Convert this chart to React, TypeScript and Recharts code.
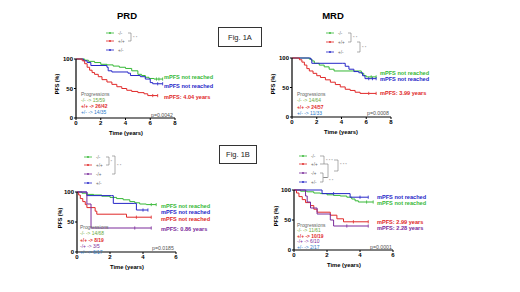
import React from 'react';
import { LineChart, Line, XAxis, YAxis } from 'recharts';

type P = { t: number; s: number; c?: number };

const FONT = '"Liberation Sans", Arial, sans-serif';
const GREEN = '#36b836';
const BLUE = '#2626c8';
const RED = '#e02828';
const PURPLE = '#7a2a9a';

// Fig 1A – PRD
const PRD_A_NEG: P[] = [
  { t: 0, s: 100 }, { t: 0.7, s: 98 }, { t: 1.0, s: 96 }, { t: 1.5, s: 94 }, { t: 2.0, s: 91 },
  { t: 2.5, s: 90 }, { t: 3.0, s: 88 }, { t: 3.5, s: 86 }, { t: 4.0, s: 84 }, { t: 4.5, s: 80 },
  { t: 5.0, s: 74 }, { t: 5.3, s: 72 }, { t: 5.6, s: 69 }, { t: 5.9, s: 67 }, { t: 6.3, s: 66 },
  { t: 6.5, s: 66, c: 1 }, { t: 6.7, s: 66, c: 1 }, { t: 7.0, s: 66, c: 1 },
];
const PRD_A_POSNEG: P[] = [
  { t: 0, s: 100 }, { t: 0.6, s: 97 }, { t: 0.9, s: 94 }, { t: 1.2, s: 89 }, { t: 2.5, s: 86 },
  { t: 2.6, s: 80 }, { t: 2.9, s: 78 }, { t: 4.2, s: 76 }, { t: 4.4, s: 72 }, { t: 5.2, s: 70 },
  { t: 5.6, s: 66 }, { t: 6.0, s: 60 }, { t: 6.2, s: 58 }, { t: 6.6, s: 58, c: 1 }, { t: 7.0, s: 58, c: 1 },
];
const PRD_A_POS: P[] = [
  { t: 0, s: 100 }, { t: 0.5, s: 97 }, { t: 0.7, s: 92 }, { t: 0.9, s: 86 }, { t: 1.1, s: 81 },
  { t: 1.3, s: 77 }, { t: 1.5, s: 74 }, { t: 1.8, s: 70 }, { t: 2.1, s: 65 }, { t: 2.5, s: 61 },
  { t: 2.9, s: 57 }, { t: 3.3, s: 53 }, { t: 3.7, s: 50 }, { t: 4.1, s: 47 }, { t: 4.5, s: 45 },
  { t: 5.0, s: 43 }, { t: 5.5, s: 41 }, { t: 5.8, s: 38 }, { t: 6.2, s: 38, c: 1 }, { t: 6.6, s: 38, c: 1 },
];

// Fig 1A – MRD
const MRD_A_NEG: P[] = [
  { t: 0, s: 100 }, { t: 1.4, s: 98 }, { t: 1.6, s: 95 }, { t: 1.8, s: 91 }, { t: 2.2, s: 88 },
  { t: 2.6, s: 85 }, { t: 3.0, s: 81 }, { t: 3.4, s: 78 }, { t: 5.4, s: 78 }, { t: 5.6, s: 74 },
  { t: 5.8, s: 70 }, { t: 6.0, s: 68 }, { t: 6.4, s: 68, c: 1 }, { t: 6.8, s: 68, c: 1 },
];
const MRD_A_POSNEG: P[] = [
  { t: 0, s: 100 }, { t: 1.5, s: 98 }, { t: 1.6, s: 91 }, { t: 4.1, s: 91 }, { t: 4.3, s: 86 },
  { t: 4.6, s: 81 }, { t: 5.0, s: 77 }, { t: 5.4, s: 75 }, { t: 5.7, s: 70 }, { t: 5.9, s: 65 },
  { t: 6.2, s: 65, c: 1 }, { t: 6.5, s: 65, c: 1 }, { t: 6.8, s: 65, c: 1 },
];
const MRD_A_POS: P[] = [
  { t: 0, s: 100 }, { t: 0.6, s: 97 }, { t: 0.8, s: 93 }, { t: 1.0, s: 88 }, { t: 1.2, s: 82 },
  { t: 1.4, s: 78 }, { t: 1.7, s: 74 }, { t: 2.0, s: 70 }, { t: 2.3, s: 67 }, { t: 2.7, s: 63 },
  { t: 3.1, s: 59 }, { t: 3.5, s: 55 }, { t: 3.9, s: 51 }, { t: 4.3, s: 47 }, { t: 4.7, s: 45 },
  { t: 5.1, s: 42 }, { t: 5.5, s: 40 }, { t: 6.2, s: 40, c: 1 }, { t: 6.8, s: 40, c: 1 },
];

// Fig 1B – PRD
const PRD_B_NEGNEG: P[] = [
  { t: 0, s: 100 }, { t: 0.3, s: 98 }, { t: 0.6, s: 96 }, { t: 1.0, s: 95 }, { t: 1.5, s: 93 },
  { t: 2.0, s: 91 }, { t: 2.4, s: 89 }, { t: 2.8, s: 87 }, { t: 3.2, s: 84 }, { t: 3.5, s: 82 },
  { t: 3.8, s: 80 }, { t: 4.2, s: 79 }, { t: 4.5, s: 79, c: 1 }, { t: 4.8, s: 79, c: 1 },
];
const PRD_B_POSPOS: P[] = [
  { t: 0, s: 100 }, { t: 0.1, s: 95 }, { t: 0.2, s: 89 }, { t: 0.35, s: 84 }, { t: 0.5, s: 79 },
  { t: 0.6, s: 74 }, { t: 1.1, s: 68 }, { t: 1.2, s: 63 }, { t: 2.9, s: 63 }, { t: 3.0, s: 58 },
  { t: 3.6, s: 58, c: 1 }, { t: 4.5, s: 58, c: 1 },
];
const PRD_B_NEGPOS: P[] = [
  { t: 0, s: 100 }, { t: 0.6, s: 80 }, { t: 0.85, s: 40 }, { t: 3.5, s: 40, c: 1 }, { t: 4.5, s: 40, c: 1 },
];
const PRD_B_POSNEG: P[] = [
  { t: 0, s: 100 }, { t: 0.6, s: 94 }, { t: 2.1, s: 94 }, { t: 2.2, s: 81 }, { t: 3.5, s: 81 },
  { t: 3.6, s: 70 }, { t: 4.0, s: 70, c: 1 }, { t: 4.3, s: 70, c: 1 },
];

// Fig 1B – MRD
const MRD_B_NEGNEG: P[] = [
  { t: 0, s: 100 }, { t: 0.4, s: 98 }, { t: 0.8, s: 97 }, { t: 1.2, s: 95 }, { t: 1.6, s: 94 },
  { t: 2.0, s: 92 }, { t: 2.4, s: 91 }, { t: 2.8, s: 90 }, { t: 3.2, s: 88 }, { t: 3.5, s: 85 },
  { t: 3.7, s: 82 }, { t: 3.9, s: 80 }, { t: 4.4, s: 80, c: 1 }, { t: 4.8, s: 80, c: 1 },
];
const MRD_B_POSPOS: P[] = [
  { t: 0, s: 100 }, { t: 0.15, s: 95 }, { t: 0.3, s: 89 }, { t: 0.5, s: 84 }, { t: 0.7, s: 79 },
  { t: 1.0, s: 74 }, { t: 1.2, s: 68 }, { t: 1.4, s: 63 }, { t: 2.2, s: 58 }, { t: 2.6, s: 52 },
  { t: 3.0, s: 47 }, { t: 3.6, s: 47, c: 1 }, { t: 4.5, s: 47, c: 1 },
];
const MRD_B_NEGPOS: P[] = [
  { t: 0, s: 100 }, { t: 0.7, s: 90 }, { t: 0.8, s: 80 }, { t: 1.0, s: 70 }, { t: 1.4, s: 60 },
  { t: 2.2, s: 50 }, { t: 2.4, s: 40 }, { t: 3.2, s: 40, c: 1 }, { t: 4.5, s: 40, c: 1 },
];
const MRD_B_POSNEG: P[] = [
  { t: 0, s: 100 }, { t: 1.7, s: 94 }, { t: 2.4, s: 94, c: 1 }, { t: 3.4, s: 88 }, { t: 4.0, s: 88, c: 1 },
  { t: 4.5, s: 88, c: 1 },
];

const TICKS_8 = [0, 2, 4, 6, 8];
const TICKS_6 = [0, 2, 4, 6];
const Y_TICKS = [0, 50, 100];

const CensorDot = (props: any) => {
  const { cx, cy, payload, stroke, index } = props;
  if (!payload || !payload.c || cx == null) return <g key={'d' + index} />;
  return (
    <line key={'d' + index} x1={cx} x2={cx} y1={cy - 1.6} y2={cy + 1.6} stroke={stroke} strokeWidth={0.8} />
  );
};

type S = { data: P[]; color: string; name: string };

function Panel(props: { left: number; top: number; w: number; h: number; xMax: number; xTicks: number[]; series: S[] }) {
  const { left, top, w, h, xMax, xTicks, series } = props;
  const yw = 24, mt = 4, mr = 4, xh = 16;
  const tick = { fontSize: 6, fontWeight: 700, fill: '#000', fontFamily: FONT };
  return (
    <div style={{ position: 'absolute', left: left - yw, top: top - mt }}>
      <LineChart width={yw + w + mr} height={mt + h + xh} margin={{ top: mt, right: mr, left: 0, bottom: 0 }}>
        <XAxis
          type="number"
          dataKey="t"
          domain={[0, xMax]}
          ticks={xTicks}
          interval={0}
          height={xh}
          tickSize={2}
          tickMargin={1}
          axisLine={{ stroke: '#000', strokeWidth: 1.2 }}
          tickLine={{ stroke: '#000', strokeWidth: 1 }}
          tick={tick}
        />
        <YAxis
          type="number"
          domain={[0, 100]}
          ticks={Y_TICKS}
          interval={0}
          width={yw}
          tickSize={2}
          tickMargin={1}
          axisLine={{ stroke: '#000', strokeWidth: 1.2 }}
          tickLine={{ stroke: '#000', strokeWidth: 1 }}
          tick={tick}
        />
        {series.map((s) => (
          <Line
            key={s.name}
            data={s.data}
            dataKey="s"
            name={s.name}
            type="stepAfter"
            stroke={s.color}
            strokeWidth={1}
            dot={CensorDot}
            activeDot={false}
            isAnimationActive={false}
          />
        ))}
      </LineChart>
    </div>
  );
}

const T = (p: { x: number; y: number; c?: string; s?: number; b?: boolean; a?: 'start' | 'middle' | 'end'; children: React.ReactNode }) => (
  <text
    x={p.x}
    y={p.y}
    fill={p.c || '#000'}
    fontSize={p.s || 5}
    fontWeight={p.b ? 700 : 400}
    textAnchor={p.a || 'start'}
    dominantBaseline="central"
    fontFamily={FONT}
  >
    {p.children}
  </text>
);

const LegRow = (p: { x: number; y: number; color: string; label: string }) => (
  <g>
    <line x1={p.x} x2={p.x + 8} y1={p.y} y2={p.y} stroke={p.color} strokeWidth={0.8} />
    <circle cx={p.x + 4} cy={p.y} r={0.9} fill={p.color} />
    <T x={p.x + 12} y={p.y} c="#666" s={4.5}>{p.label}</T>
  </g>
);

const Bracket = (p: { x: number; y1: number; y2: number; w?: number }) => {
  const w = p.w || 3;
  return <path d={`M${p.x},${p.y1} H${p.x + w} V${p.y2} H${p.x}`} fill="none" stroke="#777" strokeWidth={0.6} />;
};

export default function App() {
  return (
    <div style={{ position: 'absolute', left: 0, top: 0, width: 520, height: 292, background: '#fff', overflow: 'hidden' }}>
      <Panel
        left={76} top={59} w={99} h={59} xMax={8} xTicks={TICKS_8}
        series={[
          { data: PRD_A_NEG, color: GREEN, name: '-/-' },
          { data: PRD_A_POSNEG, color: BLUE, name: '+/-' },
          { data: PRD_A_POS, color: RED, name: '+/+' },
        ]}
      />
      <Panel
        left={292} top={58} w={99} h={59} xMax={8} xTicks={TICKS_8}
        series={[
          { data: MRD_A_NEG, color: GREEN, name: '-/-' },
          { data: MRD_A_POSNEG, color: BLUE, name: '+/-' },
          { data: MRD_A_POS, color: RED, name: '+/+' },
        ]}
      />
      <Panel
        left={77} top={192} w={99} h={60} xMax={6} xTicks={TICKS_6}
        series={[
          { data: PRD_B_NEGNEG, color: GREEN, name: '-/-' },
          { data: PRD_B_POSNEG, color: BLUE, name: '+/-' },
          { data: PRD_B_POSPOS, color: RED, name: '+/+' },
          { data: PRD_B_NEGPOS, color: PURPLE, name: '-/+' },
        ]}
      />
      <Panel
        left={294} top={190} w={99} h={60} xMax={6} xTicks={TICKS_6}
        series={[
          { data: MRD_B_NEGNEG, color: GREEN, name: '-/-' },
          { data: MRD_B_POSNEG, color: BLUE, name: '+/-' },
          { data: MRD_B_POSPOS, color: RED, name: '+/+' },
          { data: MRD_B_NEGPOS, color: PURPLE, name: '-/+' },
        ]}
      />
      <svg width={520} height={292} style={{ position: 'absolute', left: 0, top: 0, pointerEvents: 'none' }}>
        {/* titles */}
        <T x={127} y={15} s={9.5} b a="middle">PRD</T>
        <T x={333} y={15} s={9.5} b a="middle">MRD</T>
        <rect x={218.5} y={27.5} width={43} height={19} fill="none" stroke="#333" strokeWidth={1} />
        <T x={240} y={37} s={7.5} a="middle" c="#222">Fig. 1A</T>
        <rect x={219.5} y={145.5} width={37} height={18} fill="none" stroke="#333" strokeWidth={1} />
        <T x={238} y={154.5} s={7.5} a="middle" c="#222">Fig. 1B</T>

        {/* axis titles */}
        <T x={126} y={133} s={5.8} b a="middle">Time (years)</T>
        <T x={341} y={132} s={5.8} b a="middle">Time (years)</T>
        <T x={127} y={267} s={5.8} b a="middle">Time (years)</T>
        <T x={344} y={265} s={5.8} b a="middle">Time (years)</T>
        <g transform="translate(57,84) rotate(-90)"><T x={0} y={0} s={5.4} b a="middle">PFS (%)</T></g>
        <g transform="translate(273,84) rotate(-90)"><T x={0} y={0} s={5.4} b a="middle">PFS (%)</T></g>
        <g transform="translate(60,218) rotate(-90)"><T x={0} y={0} s={5.4} b a="middle">PFS (%)</T></g>
        <g transform="translate(276,216) rotate(-90)"><T x={0} y={0} s={5.4} b a="middle">PFS (%)</T></g>

        {/* Panel A-left legend */}
        <LegRow x={106} y={33} color={GREEN} label="-/-" />
        <LegRow x={106} y={41} color={RED} label="+/+" />
        <LegRow x={106} y={50} color={BLUE} label="+/-" />
        <Bracket x={128} y1={33} y2={41} />
        <T x={133} y={37} s={4} c="#777">* *</T>
        <T x={81} y={94} s={4.9} c="#666">Progressions</T>
        <T x={81} y={100} s={4.9} c="#6aa83a">-/- -&gt; 15/59</T>
        <T x={81} y={106} s={4.9} c={RED} b>+/+ -&gt; 26/42</T>
        <T x={81} y={112} s={4.9} c="#2a78c8">+/- -&gt; 14/35</T>
        <T x={151} y={115} s={5.2} c="#555">p=0.0042</T>
        <T x={164} y={77} s={5.6} b c={GREEN}>mPFS not reached</T>
        <T x={164} y={86} s={5.6} b c={BLUE}>mPFS not reached</T>
        <T x={164} y={97} s={5.6} b c={RED}>mPFS: 4.04 years</T>

        {/* Panel A-right legend */}
        <LegRow x={326} y={33} color={GREEN} label="-/-" />
        <LegRow x={326} y={42} color={RED} label="+/+" />
        <LegRow x={326} y={52} color={BLUE} label="+/-" />
        <Bracket x={348} y1={33} y2={42} />
        <T x={353} y={37.5} s={4} c="#777">* *</T>
        <Bracket x={357} y1={42} y2={52} />
        <T x={362} y={47} s={4} c="#777">* *</T>
        <T x={297} y={94} s={4.9} c="#666">Progressions</T>
        <T x={297} y={100} s={4.9} c="#6aa83a">-/- -&gt; 14/64</T>
        <T x={297} y={107} s={4.9} c={RED} b>+/+ -&gt; 24/57</T>
        <T x={297} y={113} s={4.9} c="#2a78c8">+/- -&gt; 11/33</T>
        <T x={367} y={113} s={5.2} c="#555">p=0.0008</T>
        <T x={380} y={73} s={5.6} b c={GREEN}>mPFS not reached</T>
        <T x={380} y={79} s={5.6} b c={BLUE}>mPFS not reached</T>
        <T x={380} y={93} s={5.6} b c={RED}>mPFS: 3.99 years</T>

        {/* Panel B-left legend */}
        <LegRow x={84} y={157} color={GREEN} label="-/-" />
        <LegRow x={84} y={165} color={RED} label="+/+" />
        <LegRow x={84} y={174} color={PURPLE} label="-/+" />
        <LegRow x={84} y={183} color={BLUE} label="+/-" />
        <Bracket x={106} y1={157} y2={165} />
        <T x={110.5} y={161} s={4} c="#777">*</T>
        <Bracket x={112} y1={156} y2={174} />
        <T x={117} y={165} s={4} c="#777">* *</T>
        <T x={80} y={227} s={4.9} c="#666">Progressions</T>
        <T x={80} y={233} s={4.9} c="#6aa83a">-/- -&gt; 14/68</T>
        <T x={80} y={240} s={4.9} c={RED} b>+/+ -&gt; 8/19</T>
        <T x={80} y={246} s={4.9} c={PURPLE}>-/+ -&gt; 3/5</T>
        <T x={80} y={252} s={4.9} c="#2a78c8">+/- -&gt; 6/17</T>
        <T x={152} y={248} s={5.2} c="#555">p=0.0185</T>
        <T x={161} y={206} s={5.6} b c={GREEN}>mPFS not reached</T>
        <T x={161} y={212} s={5.6} b c={BLUE}>mPFS not reached</T>
        <T x={161} y={219} s={5.6} b c={RED}>mPFS not reached</T>
        <T x={161} y={229} s={5.6} b c={PURPLE}>mPFS: 0.86 years</T>

        {/* Panel B-right legend */}
        <LegRow x={299} y={156} color={GREEN} label="-/-" />
        <LegRow x={299} y={164} color={RED} label="+/+" />
        <LegRow x={299} y={173} color={PURPLE} label="-/+" />
        <LegRow x={299} y={182} color={BLUE} label="+/-" />
        <Bracket x={320} y1={156} y2={164} w={4} />
        <T x={326} y={160} s={4} c="#777">* * *</T>
        <Bracket x={320} y1={173} y2={182} w={3} />
        <path d="M323,177.5 H327 M318,164 V164" fill="none" stroke="#777" strokeWidth={0.6} />
        <Bracket x={324} y1={164} y2={177.5} w={4} />
        <T x={329} y={180} s={4} c="#777">* *</T>
        <Bracket x={334} y1={160} y2={171} w={4} />
        <T x={340} y={164} s={4} c="#777">* * *</T>
        <T x={297} y={225} s={4.9} c="#666">Progressions</T>
        <T x={297} y={230.5} s={4.9} c="#6aa83a">-/- -&gt; 11/61</T>
        <T x={297} y={236} s={4.9} c={RED} b>+/+ -&gt; 10/19</T>
        <T x={297} y={241.5} s={4.9} c={PURPLE}>-/+ -&gt; 6/10</T>
        <T x={297} y={247} s={4.9} c="#2a78c8">+/- -&gt; 2/17</T>
        <T x={370} y={247} s={5.2} c="#555">p=0.0001</T>
        <T x={377} y={197} s={5.6} b c={BLUE}>mPFS not reached</T>
        <T x={377} y={203} s={5.6} b c={GREEN}>mPFS not reached</T>
        <T x={377} y={222} s={5.6} b c={RED}>mPFS: 2.99 years</T>
        <T x={377} y={228} s={5.6} b c={PURPLE}>mPFS: 2.28 years</T>
      </svg>
    </div>
  );
}
